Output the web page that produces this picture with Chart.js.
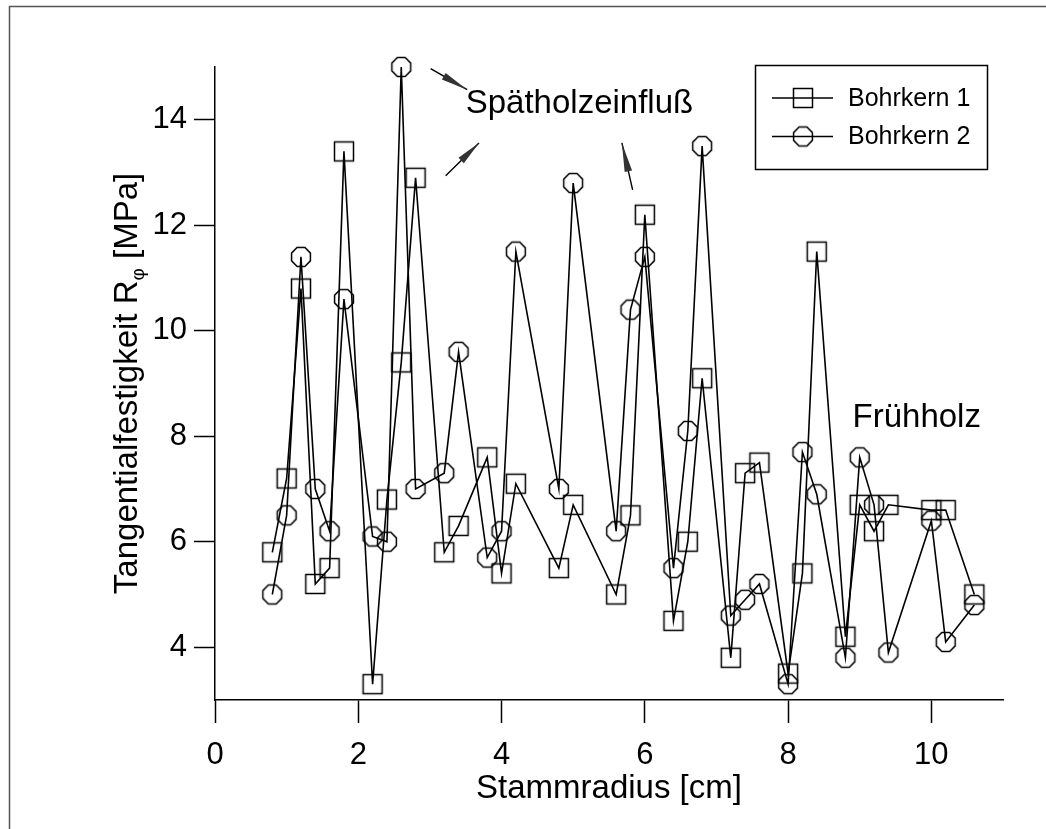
<!DOCTYPE html>
<html>
<head>
<meta charset="utf-8">
<script src="https://cdn.jsdelivr.net/npm/chart.js@4"></script>
<style>
  html, body { margin: 0; padding: 0; background: #fff; }
  #wrap { width: 1046px; height: 829px; }
</style>
</head>
<body>
<div id="wrap"><canvas id="chart" width="1046" height="829"></canvas></div>
<script>
// --- DATA ---
const radius = [0.8, 1.0, 1.2, 1.4, 1.6, 1.8, 2.2, 2.4, 2.6, 2.8, 3.2, 3.4, 3.8, 4.0, 4.2, 4.8, 5.0, 5.6,
                5.8, 6.0, 6.4, 6.6, 6.8, 7.2, 7.4, 7.6, 8.0, 8.2, 8.4, 8.8, 9.0, 9.2, 9.4, 10.0, 10.2, 10.6];
const bohrkern1 = [5.8, 7.2, 10.8, 5.2, 5.5, 13.4, 3.3, 6.8, 9.4, 12.9, 5.8, 6.3, 7.6, 5.4, 7.1, 5.5, 6.7, 5.0,
                   6.5, 12.2, 4.5, 6.0, 9.1, 3.8, 7.3, 7.5, 3.5, 5.4, 11.5, 4.2, 6.7, 6.2, 6.7, 6.6, 6.6, 5.0];
const bohrkern2 = [5.0, 6.5, 11.4, 7.0, 6.2, 10.6, 6.1, 6.0, 15.0, 7.0, 7.3, 9.6, 5.7, 6.2, 11.5, 7.0, 12.8, 6.2,
                   10.4, 11.4, 5.5, 8.1, 13.5, 4.6, 4.9, 5.2, 3.3, 7.7, 6.9, 3.8, 7.6, 6.7, 3.9, 6.4, 4.1, 4.8];
const seriesNames = ['Bohrkern 1', 'Bohrkern 2'];
const xTicks = [0, 2, 4, 6, 8, 10];
const yTicks = [4, 6, 8, 10, 12, 14];

const FONT = "'Liberation Sans', Arial, Helvetica, sans-serif";

// --- MARKERS (open square, open octagon) ---
function makeMarker(kind) {
    const c = document.createElement('canvas');
    c.width = 24; c.height = 24;
    const g = c.getContext('2d');
    g.strokeStyle = '#000';
    g.lineWidth = 1.5;
    if (kind === 'square') {
        g.strokeRect(2.5, 2.5, 19, 19);
    } else {
        g.beginPath();
        for (let k = 0; k < 8; k++) {
            const a = (22.5 + k * 45) * Math.PI / 180;
            const px = 12 + 10.2 * Math.cos(a), py = 12 + 10.2 * Math.sin(a);
            k === 0 ? g.moveTo(px, py) : g.lineTo(px, py);
        }
        g.closePath();
        g.stroke();
    }
    return c;
}
const squareMarker = makeMarker('square');
const octMarker = makeMarker('oct');
const markers = [squareMarker, octMarker];

// --- EXTRA DRAWING: frame, axis titles, notes, arrows, legend ---
function arrow(ctx, x0, y0, x1, y1, head) {
    const dx = x1 - x0, dy = y1 - y0, len = Math.hypot(dx, dy);
    const ux = dx / len, uy = dy / len;
    ctx.beginPath();
    ctx.moveTo(x0, y0);
    ctx.lineTo(x1, y1);
    ctx.stroke();
    const bx = x1 - ux * head, by = y1 - uy * head;
    ctx.beginPath();
    ctx.moveTo(x1, y1);
    ctx.lineTo(bx - uy * 3.8, by + ux * 3.8);
    ctx.lineTo(bx + uy * 3.8, by - ux * 3.8);
    ctx.closePath();
    ctx.fill();
}

const extras = {
    id: 'extras',
    afterDatasetsDraw(chart) {
        const { ctx, chartArea: a, scales: { x, y } } = chart;
        ctx.save();
        ctx.fillStyle = '#000';
        ctx.strokeStyle = '#000';

        // page frame (left + top)
        ctx.strokeStyle = '#555';
        ctx.lineWidth = 1.5;
        ctx.beginPath();
        ctx.moveTo(9.5, chart.height);
        ctx.lineTo(9.5, 6.5);
        ctx.lineTo(chart.width, 6.5);
        ctx.stroke();
        ctx.strokeStyle = '#000';

        // x axis title
        ctx.font = `33px ${FONT}`;
        ctx.textAlign = 'center';
        ctx.textBaseline = 'alphabetic';
        ctx.fillText('Stammradius [cm]', (a.left + a.right) / 2, a.bottom + 98);

        // y axis title with subscript
        ctx.save();
        ctx.translate(a.left - 78, (a.top + a.bottom) / 2);
        ctx.rotate(-Math.PI / 2);
        ctx.textAlign = 'left';
        const p1 = 'Tangentialfestigkeit R', p2 = 'φ', p3 = ' [MPa]';
        ctx.font = `33px ${FONT}`;
        const w1 = ctx.measureText(p1).width, w3 = ctx.measureText(p3).width;
        ctx.font = `19px ${FONT}`;
        const w2 = ctx.measureText(p2).width;
        let sx = -(w1 + w2 + w3) / 2;
        ctx.font = `33px ${FONT}`;
        ctx.fillText(p1, sx, 0);
        ctx.font = `19px ${FONT}`;
        ctx.fillText(p2, sx + w1, 7);
        ctx.font = `33px ${FONT}`;
        ctx.fillText(p3, sx + w1 + w2, 0);
        ctx.restore();

        // annotations
        ctx.textAlign = 'left';
        ctx.font = `33px ${FONT}`;
        ctx.fillText('Spätholzeinfluß', x.getPixelForValue(3.5), y.getPixelForValue(14.13));
        ctx.fillText('Frühholz', x.getPixelForValue(8.9), y.getPixelForValue(8.17));

        ctx.lineWidth = 1.4;
        ctx.fillStyle = '#333';
        arrow(ctx, x.getPixelForValue(3.01), y.getPixelForValue(14.97), x.getPixelForValue(3.52), y.getPixelForValue(14.57), 27);
        arrow(ctx, x.getPixelForValue(3.22), y.getPixelForValue(12.94), x.getPixelForValue(3.685), y.getPixelForValue(13.56), 25);
        arrow(ctx, x.getPixelForValue(5.83), y.getPixelForValue(12.67), x.getPixelForValue(5.68), y.getPixelForValue(13.56), 29);
        ctx.fillStyle = '#000';

        // legend
        const lx = a.right - 248, ly = a.top - 2;
        ctx.lineWidth = 1.5;
        ctx.strokeRect(lx + 0.5, ly + 0.5, 232, 104);
        ctx.font = `25px ${FONT}`;
        ctx.textBaseline = 'middle';
        seriesNames.forEach((name, i) => {
            const yy = ly + 33 + i * 38.5;
            ctx.beginPath();
            ctx.moveTo(lx + 17, yy);
            ctx.lineTo(lx + 78, yy);
            ctx.stroke();
            ctx.drawImage(markers[i], lx + 48 - 12, yy - 12);
            ctx.fillText(name, lx + 93, yy + 1);
        });
        ctx.restore();
    }
};

// --- CHART ---
const tickFont = { family: FONT, size: 31 };

new Chart(document.getElementById('chart'), {
    type: 'line',
    data: {
        datasets: [bohrkern1, bohrkern2].map((vals, i) => ({
            label: seriesNames[i],
            data: radius.map((r, j) => ({ x: r, y: vals[j] })),
            borderColor: '#000',
            borderWidth: 1.6,
            backgroundColor: 'transparent',
            pointStyle: markers[i],
            pointRadius: 10,
            pointBorderColor: '#000',
            fill: false,
            tension: 0,
            clip: false
        }))
    },
    options: {
        responsive: false,
        animation: false,
        layout: { padding: { top: 67, right: 43, bottom: 0, left: 0 }, autoPadding: false },
        plugins: { legend: { display: false }, tooltip: { enabled: false } },
        scales: {
            x: {
                type: 'linear', min: 0, max: 11,
                afterBuildTicks: s => { s.ticks = xTicks.map(v => ({ value: v })); },
                afterFit: s => { s.height = 129; },
                border: { display: true, color: '#000', width: 1.5 },
                grid: { drawOnChartArea: false, drawTicks: true, tickLength: 23, tickWidth: 1.5, tickColor: '#000' },
                ticks: { color: '#000', font: tickFont, padding: 14, maxRotation: 0, autoSkip: false }
            },
            y: {
                type: 'linear', min: 3, max: 15,
                afterBuildTicks: s => { s.ticks = yTicks.map(v => ({ value: v })); },
                afterFit: s => { s.width = 215; },
                border: { display: true, color: '#000', width: 1.5 },
                grid: { drawOnChartArea: false, drawTicks: true, tickLength: 21, tickWidth: 1.5, tickColor: '#000' },
                ticks: { color: '#000', font: tickFont, padding: 7, autoSkip: false }
            }
        }
    },
    plugins: [extras]
});
</script>
</body>
</html>
